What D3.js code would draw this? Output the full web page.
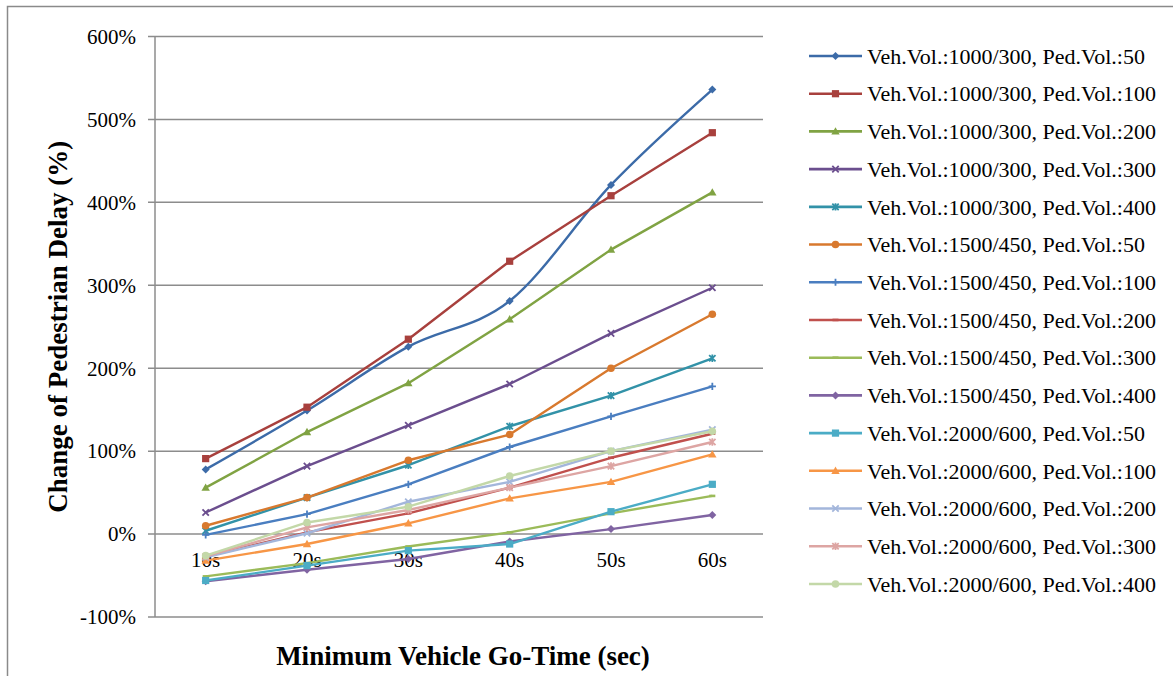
<!DOCTYPE html>
<html>
<head>
<meta charset="utf-8">
<script src="https://cdn.jsdelivr.net/npm/d3@7"></script>
<style>
  html, body { margin: 0; padding: 0; background: #fff; }
  svg { display: block; }
  text { font-family: "Liberation Serif", "Times New Roman", serif; fill: #000; }
</style>
</head>
<body>
<svg id="chart" width="1173" height="676"></svg>
<script>
const categories = ["10s", "20s", "30s", "40s", "50s", "60s"];
const yTicks = [-100, 0, 100, 200, 300, 400, 500, 600];

const seriesNames = [
  "Veh.Vol.:1000/300, Ped.Vol.:50",
  "Veh.Vol.:1000/300, Ped.Vol.:100",
  "Veh.Vol.:1000/300, Ped.Vol.:200",
  "Veh.Vol.:1000/300, Ped.Vol.:300",
  "Veh.Vol.:1000/300, Ped.Vol.:400",
  "Veh.Vol.:1500/450, Ped.Vol.:50",
  "Veh.Vol.:1500/450, Ped.Vol.:100",
  "Veh.Vol.:1500/450, Ped.Vol.:200",
  "Veh.Vol.:1500/450, Ped.Vol.:300",
  "Veh.Vol.:1500/450, Ped.Vol.:400",
  "Veh.Vol.:2000/600, Ped.Vol.:50",
  "Veh.Vol.:2000/600, Ped.Vol.:100",
  "Veh.Vol.:2000/600, Ped.Vol.:200",
  "Veh.Vol.:2000/600, Ped.Vol.:300",
  "Veh.Vol.:2000/600, Ped.Vol.:400"
];

const v1000_50  = [78, 149, 226, 281, 421, 536];
const v1000_100 = [91, 153, 235, 329, 408, 484];
const v1000_200 = [56, 123, 182, 259, 343, 412];
const v1000_300 = [26, 82, 131, 181, 242, 297];
const v1000_400 = [4, 44, 83, 130, 167, 212];
const v1500_50  = [10, 44, 89, 120, 200, 265];
const v1500_100 = [-1, 24, 60, 105, 142, 178];
const v1500_200 = [-27, 2, 25, 56, 92, 121];
const v1500_300 = [-51, -35, -15, 2, 25, 46];
const v1500_400 = [-57, -43, -30, -9, 6, 23];
const v2000_50  = [-56, -38, -20, -12, 27, 60];
const v2000_100 = [-32, -12, 13, 43, 63, 96];
const v2000_200 = [-28, 1, 39, 63, 100, 126];
const v2000_300 = [-27, 8, 29, 56, 82, 111];
const v2000_400 = [-26, 14, 33, 70, 100, 124];

const seriesValues = [v1000_50, v1000_100, v1000_200, v1000_300, v1000_400,
  v1500_50, v1500_100, v1500_200, v1500_300, v1500_400,
  v2000_50, v2000_100, v2000_200, v2000_300, v2000_400];

const colors = ["#3C6BA8", "#A8403D", "#80A343", "#6B4E8E", "#3292A8", "#D8792E",
  "#4A7EC0", "#C0504D", "#9BBB59", "#8064A2", "#4BACC6", "#F79646",
  "#A3B6DB", "#DDA5A3", "#C3D8A8"];
const markers = ["diamond", "square", "triangle", "x", "star", "circle", "plus",
  "dash", "dash", "diamond", "square", "triangle", "x", "star", "circle"];
const smooth = [true, false, false, false, false, false, false, false, false,
  false, false, false, false, false, false];

const svg = d3.select("#chart");

// outer chart border (left and top visible)
svg.append("path")
  .attr("d", "M7.5,676 L7.5,6.5 L1180,6.5")
  .attr("fill", "none").attr("stroke", "#8a8a8a").attr("stroke-width", 1.5);

const plotL = 155, plotR = 763, plotT = 36.5, plotB = 617;
const x = d3.scalePoint().domain(categories).range([plotL, plotR]).padding(0.5);
const y = d3.scaleLinear().domain([-100, 600]).range([plotB, plotT]);

// gridlines
svg.append("g").selectAll("line").data(yTicks).join("line")
  .attr("x1", plotL - 7).attr("x2", plotR)
  .attr("y1", d => y(d)).attr("y2", d => y(d))
  .attr("stroke", "#8c8c8c").attr("stroke-width", 1.5);

// y axis line
svg.append("line").attr("x1", plotL).attr("x2", plotL)
  .attr("y1", y(600)).attr("y2", y(-100))
  .attr("stroke", "#8c8c8c").attr("stroke-width", 1.5);

// y tick labels
svg.append("g").selectAll("text").data(yTicks).join("text")
  .attr("x", 136).attr("y", d => y(d)).attr("dy", "0.35em")
  .attr("text-anchor", "end").attr("font-size", 21)
  .text(d => d + "%");

// x tick labels (at zero line)
svg.append("g").selectAll("text").data(categories).join("text")
  .attr("x", d => x(d)).attr("y", y(0) + 33)
  .attr("text-anchor", "middle").attr("font-size", 21)
  .text(d => d);

// axis titles
svg.append("text").attr("x", 463).attr("y", 665)
  .attr("text-anchor", "middle").attr("font-size", 27).attr("font-weight", "bold")
  .text("Minimum Vehicle Go-Time (sec)");
svg.append("text")
  .attr("transform", `translate(67,${(plotT + plotB) / 2}) rotate(-90)`)
  .attr("text-anchor", "middle").attr("font-size", 27).attr("font-weight", "bold")
  .text("Change of Pedestrian Delay (%)");

function drawMarker(g, type, cx, cy, color, scale) {
  const s = scale || 1;
  if (type === "diamond") {
    const r = 4 * s;
    g.append("path").attr("d", `M${cx},${cy - r}L${cx + r},${cy}L${cx},${cy + r}L${cx - r},${cy}Z`).attr("fill", color);
  } else if (type === "square") {
    const r = 3.6 * s;
    g.append("rect").attr("x", cx - r).attr("y", cy - r).attr("width", 2 * r).attr("height", 2 * r).attr("fill", color);
  } else if (type === "triangle") {
    const r = 4.2 * s;
    g.append("path").attr("d", `M${cx},${cy - r}L${cx + r},${cy + r * 0.75}L${cx - r},${cy + r * 0.75}Z`).attr("fill", color);
  } else if (type === "circle") {
    g.append("circle").attr("cx", cx).attr("cy", cy).attr("r", 3.8 * s).attr("fill", color);
  } else if (type === "x") {
    const r = 3.2 * s;
    g.append("path").attr("d", `M${cx - r},${cy - r}L${cx + r},${cy + r}M${cx - r},${cy + r}L${cx + r},${cy - r}`)
      .attr("stroke", color).attr("stroke-width", 1.8).attr("fill", "none");
  } else if (type === "star") {
    const r = 3.2 * s;
    g.append("path").attr("d", `M${cx - r},${cy - r}L${cx + r},${cy + r}M${cx - r},${cy + r}L${cx + r},${cy - r}M${cx},${cy - r - 0.5}L${cx},${cy + r + 0.5}`)
      .attr("stroke", color).attr("stroke-width", 1.8).attr("fill", "none");
  } else if (type === "plus") {
    const r = 3.6 * s;
    g.append("path").attr("d", `M${cx - r},${cy}L${cx + r},${cy}M${cx},${cy - r}L${cx},${cy + r}`)
      .attr("stroke", color).attr("stroke-width", 1.8).attr("fill", "none");
  } else if (type === "dash") {
    const r = 3 * s;
    g.append("path").attr("d", `M${cx - r},${cy}L${cx + r},${cy}`)
      .attr("stroke", color).attr("stroke-width", 2.6).attr("fill", "none");
  }
}

// series
const seriesG = svg.append("g");
seriesValues.forEach((vals, i) => {
  const g = seriesG.append("g");
  const line = d3.line()
    .x((d, j) => x(categories[j]))
    .y(d => y(d))
    .curve(smooth[i] ? d3.curveCatmullRom.alpha(0) : d3.curveLinear);
  g.append("path").datum(vals).attr("d", line)
    .attr("fill", "none").attr("stroke", colors[i]).attr("stroke-width", 2.4)
    .attr("stroke-linejoin", "round");
  vals.forEach((v, j) => drawMarker(g, markers[i], x(categories[j]), y(v), colors[i], 1));
});

// legend
const legend = svg.append("g");
const legY0 = 56, legStep = 37.71;
seriesNames.forEach((name, i) => {
  const ly = legY0 + i * legStep;
  const g = legend.append("g");
  g.append("line").attr("x1", 809).attr("x2", 862).attr("y1", ly).attr("y2", ly)
    .attr("stroke", colors[i]).attr("stroke-width", 2.6);
  drawMarker(g, markers[i], 835.5, ly, colors[i], 1);
  g.append("text").attr("x", 867).attr("y", ly).attr("dy", "0.35em")
    .attr("font-size", 22).text(name);
});
</script>
</body>
</html>
